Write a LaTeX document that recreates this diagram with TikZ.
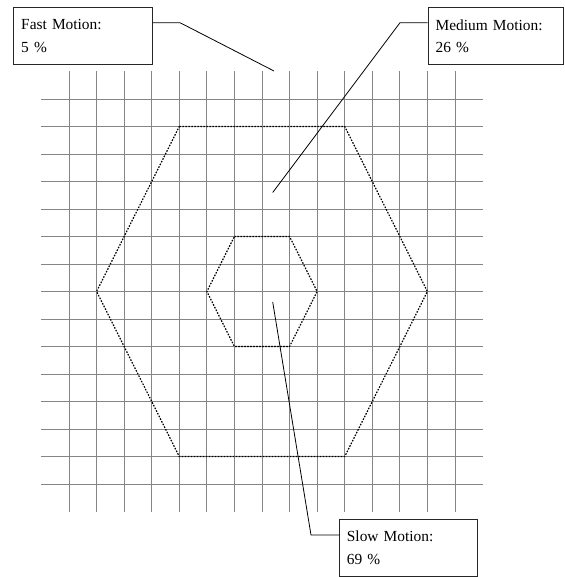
\documentclass[tikz,border=0pt]{standalone}
\usepackage{fontspec}
\setmainfont{Liberation Serif}
\begin{document}
\begin{tikzpicture}[x=1pt,y=-1pt,
  gridline/.style={draw=black!48,line width=0.8pt},
  hexline/.style={draw=black,line width=1.2pt,dash pattern=on 1.6pt off 1.4pt},
  labelbox/.style={draw=black!85,line width=0.8pt,fill=white,align=left,
    font=\fontsize{15.4}{22.7}\selectfont,inner xsep=7.5pt,inner ysep=0pt,
    minimum height=57.5pt,anchor=north west},
  leader/.style={draw=black,line width=0.8pt}]
\useasboundingbox (0,0) rectangle (564,577);
% grid and hexagons
\begin{scope}[shift={(69pt,-99pt)},x=27.57pt,y=-27.5pt]
  \foreach \i in {0,...,14} \draw[gridline] (\i,-1) -- (\i,15);
  \foreach \j in {0,...,14} \draw[gridline] (-1,\j) -- (15,\j);
  \draw[hexline] (4,1) -- (10,1) -- (13,7) -- (10,13) -- (4,13) -- (1,7) -- cycle;
  \draw[hexline] (6,5) -- (8,5) -- (9,7) -- (8,9) -- (6,9) -- (5,7) -- cycle;
\end{scope}
% label boxes
\node[labelbox,text width=123.5pt] (fast) at (13.3,7) {Fast Motion:\\5 \%};
\node[labelbox,text width=120pt] (medium) at (427.7,7) {Medium Motion:\\26 \%};
\node[labelbox,text width=123pt] (slow) at (339,518.5) {Slow Motion:\\69 \%};
% leader lines
\coordinate (fastknee) at (180,22.7);
\coordinate (fastend) at (274,71);
\coordinate (medknee) at (400,22.7);
\coordinate (medend) at (272.7,192.5);
\coordinate (slowknee) at (311,535);
\coordinate (slowend) at (272.7,302);
\draw[leader] (fast.east |- fastknee) -- (fastknee) -- (fastend);
\draw[leader] (medium.west |- medknee) -- (medknee) -- (medend);
\draw[leader] (slow.west |- slowknee) -- (slowknee) -- (slowend);
\end{tikzpicture}
\end{document}
